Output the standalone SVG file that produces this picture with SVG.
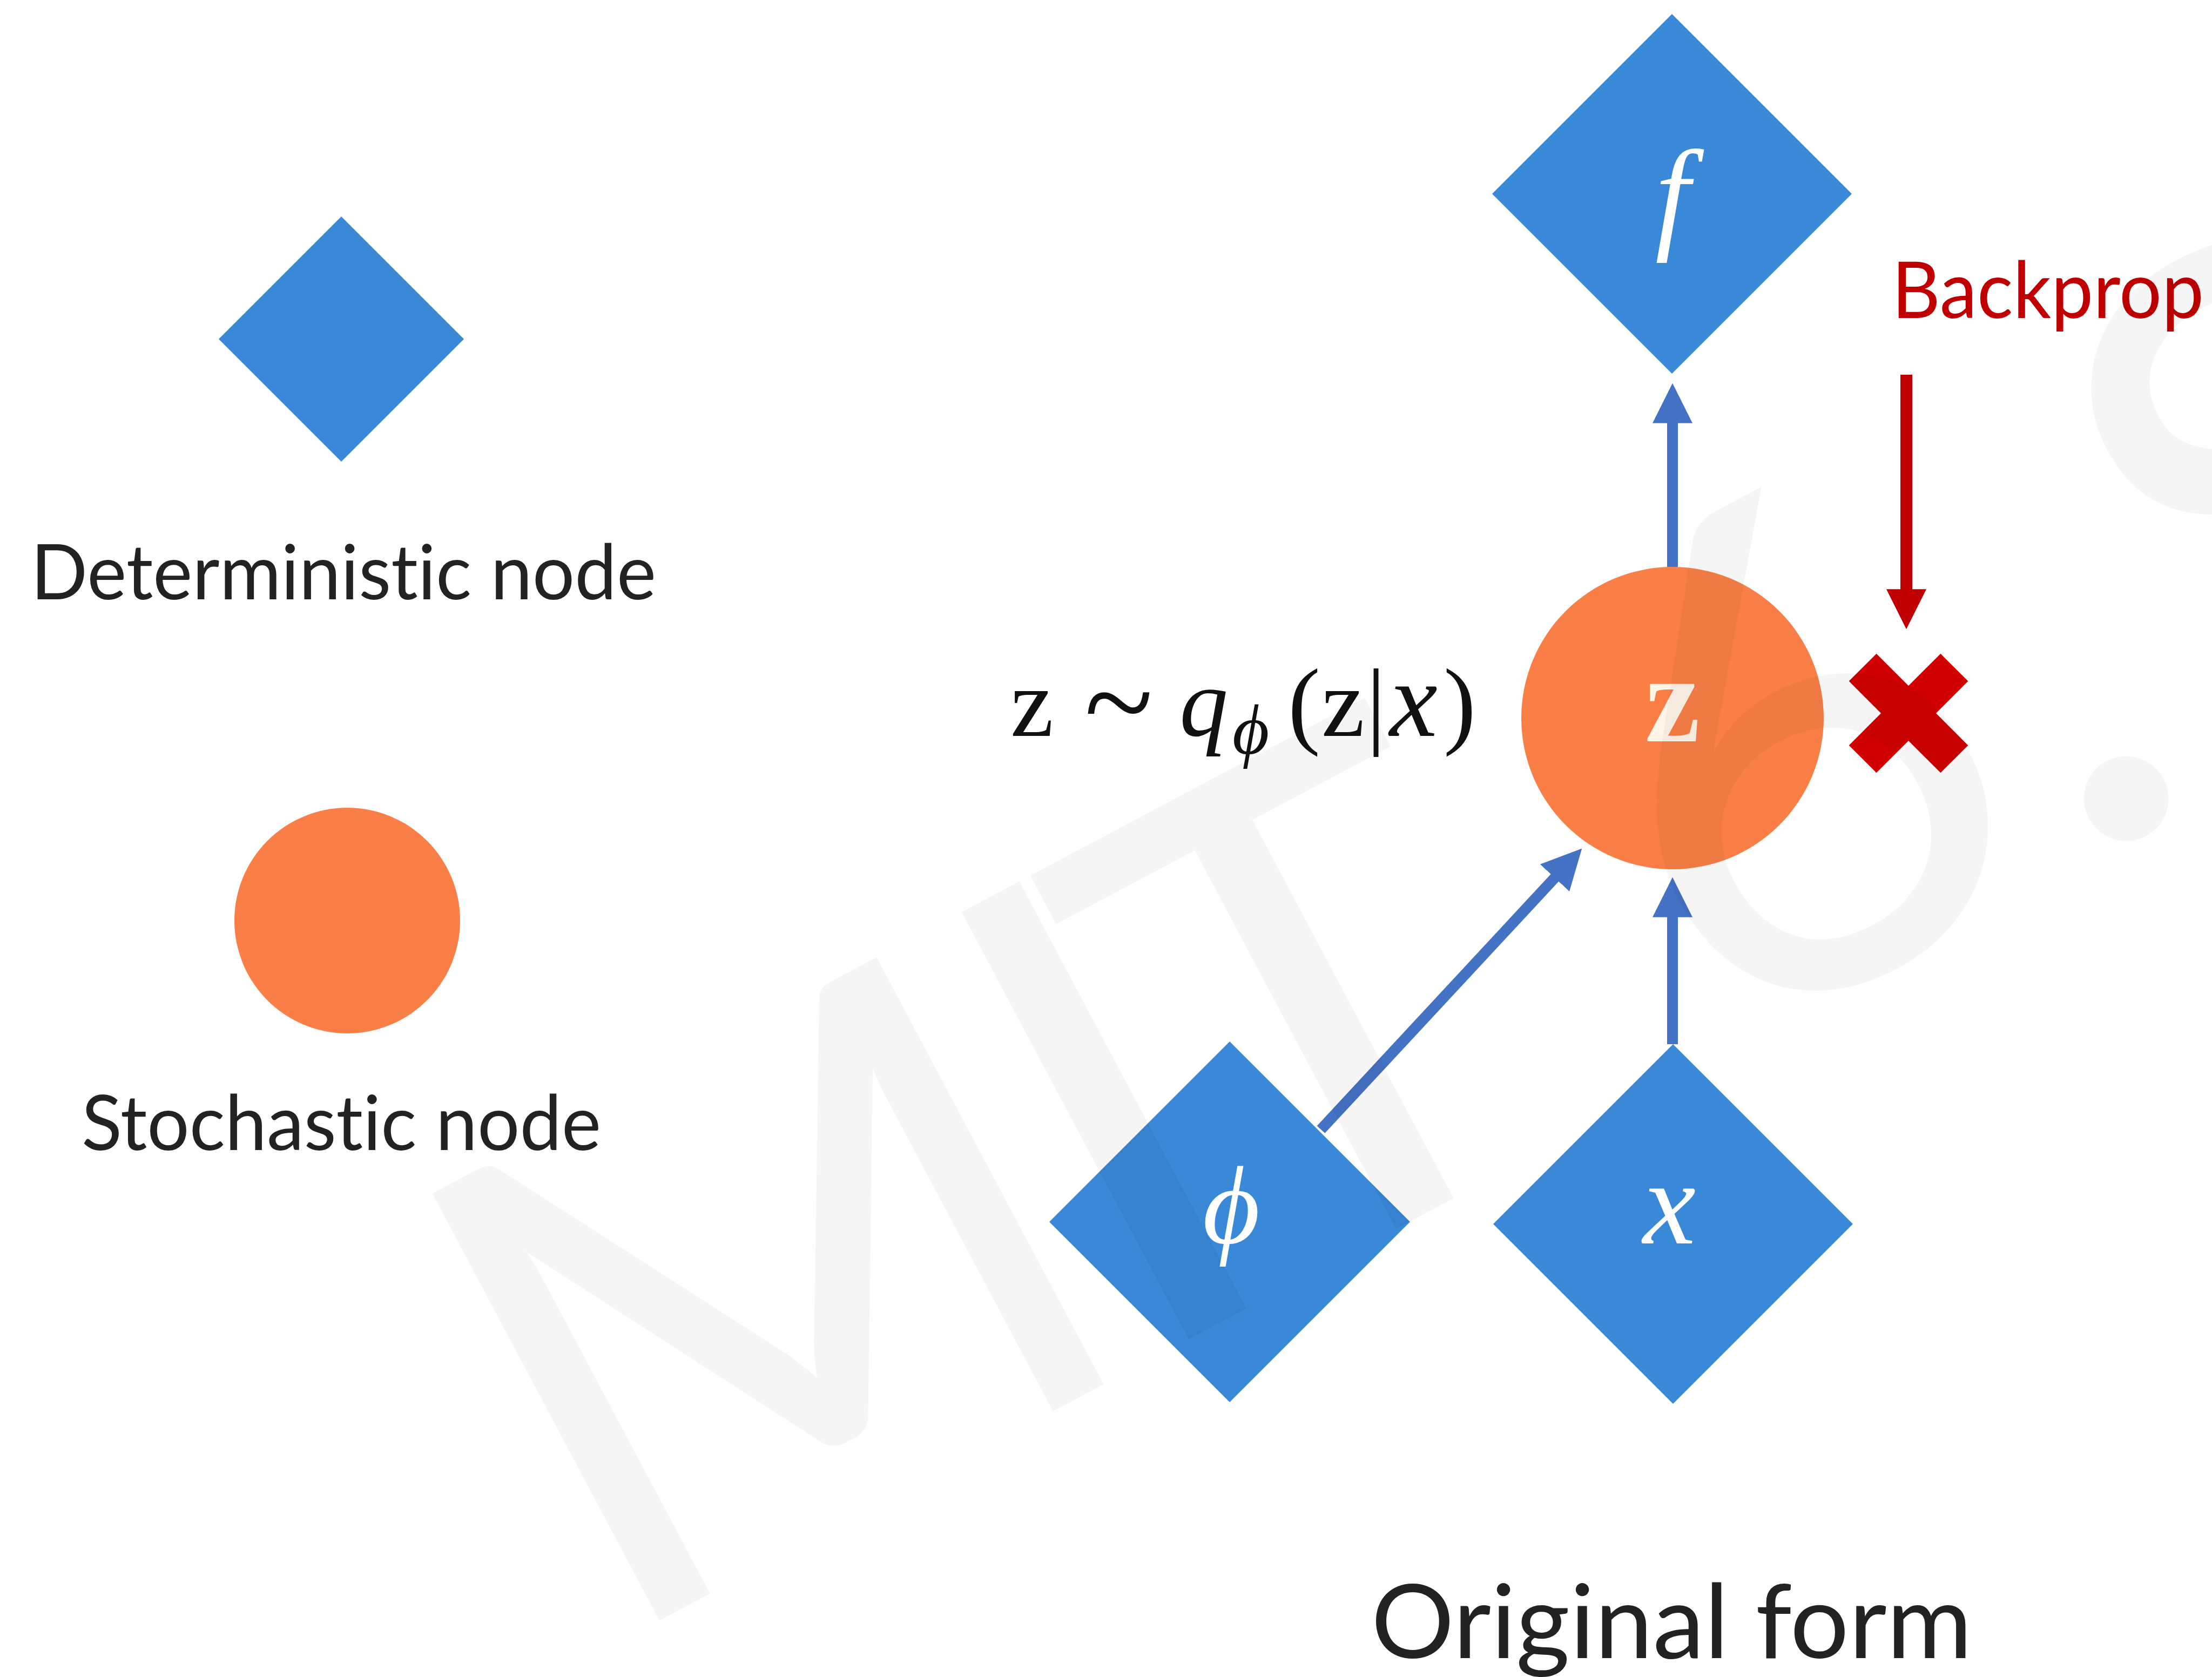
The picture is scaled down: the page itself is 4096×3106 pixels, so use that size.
<svg xmlns="http://www.w3.org/2000/svg" width="4096" height="3106" viewBox="0 0 4096 3106">
<defs>
<style>
text{font-variant-ligatures:none;font-feature-settings:"liga" 0,"dlig" 0,"clig" 0}
.det{fill:#3A88D8}
.sto{fill:#F97F46}
.lbl{font-family:Lato,"Liberation Sans",sans-serif;fill:#222}
.math{font-family:"Liberation Serif","DejaVu Serif",serif}
.white{fill:#FFFFFF}
.conn{stroke:#4472C4;stroke-width:20;fill:none;marker-end:url(#ahb)}
.back{stroke:#C00000;stroke-width:22;fill:none;marker-end:url(#ahr)}
</style>
<marker id="ahb" viewBox="0 0 10 10" refX="2" refY="5" markerWidth="74" markerHeight="77" markerUnits="userSpaceOnUse" orient="auto">
<path d="M0,0 L10,5 L0,10 z" fill="#4472C4"/>
</marker>
<marker id="ahr" viewBox="0 0 10 10" refX="2" refY="5" markerWidth="74" markerHeight="76" markerUnits="userSpaceOnUse" orient="auto">
<path d="M0,0 L10,5 L0,10 z" fill="#C00000"/>
</marker>
</defs>
<rect width="4096" height="3106" fill="#FFFFFF"/>

<g id="legend-deterministic">
<polygon class="det" points="632,401 859,628 632,855 405,628"/>
<text class="lbl" x="57" y="1110" font-size="142" textLength="1158" lengthAdjust="spacingAndGlyphs">Deterministic node</text>
</g>
<g id="legend-stochastic">
<circle class="sto" cx="643" cy="1705" r="209"/>
<text class="lbl" x="151" y="2130" font-size="142" textLength="962" lengthAdjust="spacingAndGlyphs">Stochastic node</text>
</g>

<g id="connectors">
<path class="conn" d="M3097,1050 L3097,769"/>
<path class="conn" d="M3097,1934 L3097,1684"/>
<path class="conn" d="M2446,2092 L2889,1615"/>
<path class="back" d="M3530,694 L3530,1106"/>
</g>

<g id="node-f">
<polygon class="det" points="3096,26 3429,359 3096,692 2763,359"/>
<text class="math white" x="3097" y="438" font-size="230" font-style="italic" text-anchor="middle">f</text>
</g>
<g id="node-z">
<circle class="sto" cx="3097" cy="1330" r="280"/>
<text class="math" x="3097" y="1373" font-size="230" font-weight="bold" text-anchor="middle" fill="#FFF4E8">z</text>
</g>
<g id="node-phi">
<polygon class="det" points="2277,1929 2611,2263 2277,2597 1943,2263"/>
<text class="math white" x="2280" y="2302" font-size="205" font-style="italic" text-anchor="middle">ϕ</text>
</g>
<g id="node-x">
<polygon class="det" points="3098,1934 3431,2267 3098,2600 2765,2267"/>
<text class="math white" x="3091" y="2303" font-size="220" font-style="italic" text-anchor="middle">x</text>
</g>

<g id="formula">
<text class="math" font-size="180" fill="#111"><tspan x="1871" y="1363">z</tspan><tspan x="2008" y="1380" font-size="235">~</tspan><tspan x="2184" y="1363" font-style="italic">q</tspan><tspan x="2282" y="1396" font-size="132" font-style="italic">ϕ</tspan><tspan x="2385" y="1363">(</tspan><tspan x="2447" y="1363">z</tspan><tspan x="2530" y="1363">|</tspan><tspan x="2573" y="1363" font-size="200" font-style="italic">x</tspan><tspan x="2673" y="1363">)</tspan></text>
</g>

<g id="backprop">
<text x="3503" y="589" font-family="Lato,'Liberation Sans',sans-serif" font-size="145" fill="#C00000" textLength="578" lengthAdjust="spacingAndGlyphs">Backprop</text>
<g transform="translate(3534,1321)" fill="#D00000">
<rect x="-120" y="-36" width="240" height="72" transform="rotate(45)"/>
<rect x="-120" y="-36" width="240" height="72" transform="rotate(-45)"/>
</g>
</g>

<text id="caption" class="lbl" x="2539" y="3071" font-size="190" fill="#000" textLength="1113" lengthAdjust="spacingAndGlyphs">Original form</text>

<g id="watermark" transform="translate(1120,3055) rotate(-28)">
<text font-family="Lato,'Liberation Sans',sans-serif" font-size="1250" fill="#000" fill-opacity="0.04"><tspan x="0" y="0">M</tspan><tspan x="1110" y="0">I</tspan><tspan x="1350" y="0">T</tspan><tspan x="2340" y="0">6</tspan><tspan x="3080" y="0">.</tspan><tspan x="3420" y="0">S</tspan></text>
</g>
</svg>
